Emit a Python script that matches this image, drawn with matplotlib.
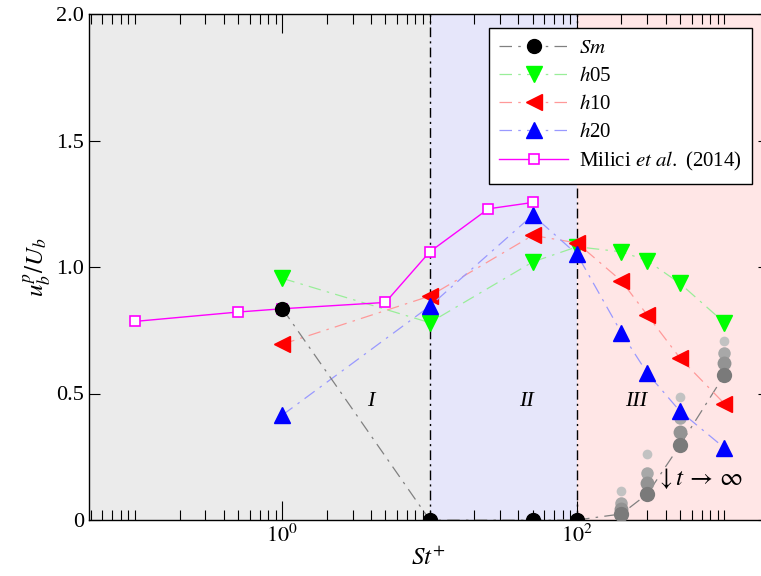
import numpy as np
import matplotlib
matplotlib.use("Agg")
import matplotlib.pyplot as plt
from matplotlib.ticker import FixedLocator, LogLocator, NullFormatter

plt.rcParams["font.family"] = ["Liberation Serif", "DejaVu Serif"]
plt.rcParams["mathtext.fontset"] = "stix"

# data
stSm = [1, 10, 50, 100]
uSm = [0.835, 0.0, 0.0, 0.0]
stCloud = [200, 300, 500, 1000]
uCloud0 = [0.024, 0.103, 0.296, 0.573]   # t -> inf (largest, darkest)
uCloud1 = [0.042, 0.145, 0.349, 0.619]
uCloud2 = [0.068, 0.187, 0.402, 0.659]
uCloud3 = [0.115, 0.260, 0.485, 0.709]

stH = [1, 10, 50, 100, 200, 300, 500, 1000]
uH05 = [0.955, 0.78, 1.02, 1.08, 1.06, 1.025, 0.935, 0.78]
uH10 = [0.695, 0.885, 1.125, 1.095, 0.945, 0.81, 0.64, 0.46]
uH20 = [0.415, 0.845, 1.205, 1.05, 0.74, 0.58, 0.43, 0.285]

stMilici = [0.1, 0.5, 1, 5, 10, 25, 50]
uMilici = [0.785, 0.822, 0.835, 0.86, 1.06, 1.23, 1.255]

regionLabels = ["I", "II", "III"]
regionX = [4, 45, 250]

fig = plt.figure(figsize=(7.61, 5.76), dpi=100)
ax = fig.add_axes([89 / 761, 1 - 520 / 576, 679.7 / 761, 506 / 576])
xMin, xMax = 0.0486, 2000
ax.set_xscale("log")
ax.set_xlim(xMin, xMax)
ax.set_ylim(0, 2.0)

# background regimes
ax.axvspan(xMin, 10, color="#ebebeb", zorder=0, lw=0)
ax.axvspan(10, 100, color="#e6e6fa", zorder=0, lw=0)
ax.axvspan(100, xMax, color="#ffe6e6", zorder=0, lw=0)
for xv in [10, 100]:
    ax.axvline(xv, color="black", lw=1.0, ls=(0, (7, 3, 1.5, 3)), zorder=1)

dashDot = (0, (10, 5, 2, 5))

# time-evolution cloud of Sm
cloudStyle = [(uCloud3, 7, "#c2c2c2"), (uCloud2, 9, "#a8a8a8"),
              (uCloud1, 10, "#939393"), (uCloud0, 11, "#7a7a7a")]
for uc, ms, col in cloudStyle:
    ax.plot(stCloud, uc, ls="none", marker="o", ms=ms, color=col, mec="none", zorder=3)
ax.plot([stSm[-1]] + stCloud, [uSm[-1]] + uCloud0, color="#808080", lw=0.9, ls=dashDot, zorder=2)

ax.plot(stSm, uSm, color="#808080", lw=0.9, ls=dashDot, marker="o", ms=10,
        mfc="black", mec="black", label="$Sm$", zorder=6)
ax.plot(stH, uH05, color="#99ee99", lw=0.9, ls=dashDot, marker="v", ms=11,
        mfc="#00ff00", mec="#00ff00", label="$h$05", zorder=4)
ax.plot(stH, uH10, color="#ff9999", lw=0.9, ls=dashDot, marker="<", ms=11,
        mfc="#ff0000", mec="#ff0000", label="$h$10", zorder=4)
ax.plot(stH, uH20, color="#9999ff", lw=0.9, ls=dashDot, marker="^", ms=11,
        mfc="#0000ff", mec="#0000ff", label="$h$20", zorder=4)
ax.plot(stMilici, uMilici, color="#ff00ff", lw=1.0, marker="s", ms=7,
        mfc="white", mec="#ff00ff", mew=1.2, label="Milici $et\\ al.$ (2014)", zorder=5)

for lab, xl in zip(regionLabels, regionX):
    ax.text(xl, 0.47, lab, fontsize=16, style="italic", ha="center", va="center", zorder=6)
ax.text(345, 0.165, r"$\downarrow t\,\rightarrow\,\infty$", fontsize=18, ha="left", va="center", zorder=6)

ax.xaxis.set_major_locator(FixedLocator([1, 100]))
ax.set_xticklabels([r"$10^0$", r"$10^2$"])
ax.xaxis.set_minor_locator(LogLocator(base=10, subs=np.arange(1, 10), numticks=30))
ax.xaxis.set_minor_formatter(NullFormatter())
ax.set_yticks([0, 0.5, 1.0, 1.5, 2.0])
ax.set_yticklabels(["0", "0.5", "1.0", "1.5", "2.0"])
ax.tick_params(axis="both", which="both", direction="in", top=True, right=True, labelsize=16)
ax.tick_params(axis="x", which="major", length=14, width=0.8)
ax.tick_params(axis="x", which="minor", length=7, width=0.8)
ax.tick_params(axis="y", which="major", length=8, width=0.8)
for sp in ax.spines.values():
    sp.set_linewidth(1.0)

ax.set_xlabel(r"$St^{+}$", fontsize=18, labelpad=0)
ax.set_ylabel(r"$u_b^p/U_b$", fontsize=18, labelpad=2)

leg = ax.legend(loc="upper right", bbox_to_anchor=(0.975, 0.972), borderaxespad=0,
                fontsize=15, fancybox=False, framealpha=1, edgecolor="black",
                handlelength=3.3, handletextpad=0.5, labelspacing=0.4, borderpad=0.5)
leg.get_frame().set_linewidth(1.0)

fig.savefig("out.png", dpi=100)
